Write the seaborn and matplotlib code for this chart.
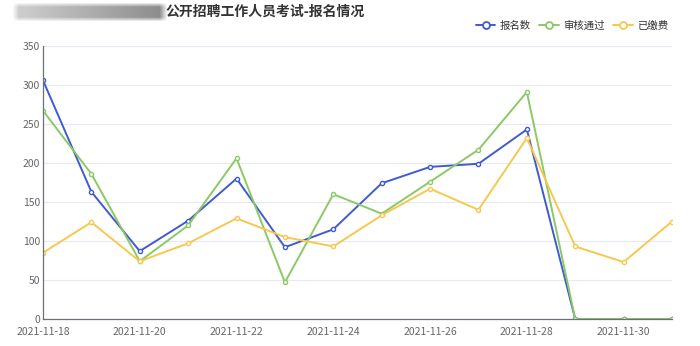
import numpy as np
import pandas as pd
import matplotlib
matplotlib.use("Agg")
import matplotlib.pyplot as plt
import matplotlib.dates as mdates
from matplotlib.lines import Line2D
import seaborn as sns

# ---- data ----
dates = pd.date_range("2021-11-18", "2021-12-01", freq="D")
signup = [306, 163, 87, 126, 180, 92, 115, 174, 195, 199, 243, 0, 0, 0]
approved = [267, 186, 74, 120, 206, 47, 160, 135, 176, 217, 291, 0, 0, 0]
paid = [85, 124, 74, 97, 129, 105, 93, 133, 167, 140, 232, 93, 73, 125]
series_names = ["报名数", "审核通过", "已缴费"]
colors = ["#3f5bcf", "#8cc966", "#f7c74f"]
title = "公开招聘工作人员考试-报名情况"

df = pd.DataFrame({
    "date": np.tile(dates, 3),
    "value": signup + approved + paid,
    "series": np.repeat(series_names, len(dates)),
})

sns.set_theme(style="white")
plt.rcParams["font.family"] = ["Noto Sans CJK SC", "DejaVu Sans"]

fig = plt.figure(figsize=(7.0, 3.46), dpi=100)
ax = fig.add_axes([43 / 700, 27 / 346, 629 / 700, 273 / 346])

palette = dict(zip(series_names, colors))
sns.lineplot(data=df, x="date", y="value", hue="series", palette=palette,
             marker="o", markersize=3.0, markerfacecolor="white",
             markeredgewidth=1.0, linewidth=1.4, legend=False, ax=ax)
for line, c in zip(ax.lines, colors):
    line.set_markeredgecolor(c)

ax.set_xlim(dates[0], dates[-1])
ax.set_ylim(0, 350)
ax.set_yticks(range(0, 351, 50))
ax.set_xticks(dates[::2])
ax.xaxis.set_major_formatter(mdates.DateFormatter("%Y-%m-%d"))
ax.set_xlabel("")
ax.set_ylabel("")
ax.grid(axis="y", color="#e6e9f2", linewidth=0.8)
ax.set_axisbelow(True)
for side in ["top", "right"]:
    ax.spines[side].set_visible(False)
for side in ["left", "bottom"]:
    ax.spines[side].set_color("#6e7079")
    ax.spines[side].set_linewidth(0.9)
ax.tick_params(axis="both", labelsize=7.5, colors="#666666", length=0, pad=2)
ax.tick_params(axis="x", length=4, color="#6e7079", direction="out", width=0.8)
for lbl in ax.get_xticklabels() + ax.get_yticklabels():
    lbl.set_color("#666666")

# title
fig.text(165 / 700, 1 - 12 / 346, title, ha="left", va="center",
         fontsize=10, fontweight="bold", color="#333333")

# soft grey bar to the left of the title
bar_ax = fig.add_axes([12 / 700, 1 - 22 / 346, 156 / 700, 20 / 346])
w, h = 156, 20
xs = np.linspace(0, 1, w)
ys = np.linspace(-1, 1, h)
shade = 0.82 - 0.28 * xs
img = np.zeros((h, w, 4))
img[..., 0] = shade[None, :]
img[..., 1] = shade[None, :]
img[..., 2] = shade[None, :]
alpha_y = np.clip((1 - np.abs(ys)) * 2.2, 0, 1)
alpha_x = np.clip(xs * 25, 0, 1) * np.clip((1 - xs) * 20, 0, 1)
img[..., 3] = alpha_y[:, None] * alpha_x[None, :]
bar_ax.imshow(img, aspect="auto", interpolation="bilinear")
bar_ax.axis("off")

# legend
handles = [Line2D([0], [0], color=c, linewidth=1.4, marker="o", markersize=5,
                  markerfacecolor="white", markeredgecolor=c, markeredgewidth=1.3)
           for c in colors]
fig.legend(handles, series_names, loc="center right",
           bbox_to_anchor=(670 / 700, 1 - 26 / 346), ncol=3, frameon=False,
           fontsize=7.5, handlelength=1.9, handletextpad=0.4, columnspacing=0.8,
           labelcolor="#333333", borderpad=0.2, borderaxespad=0)

fig.savefig("out.png", dpi=100, facecolor="white")
